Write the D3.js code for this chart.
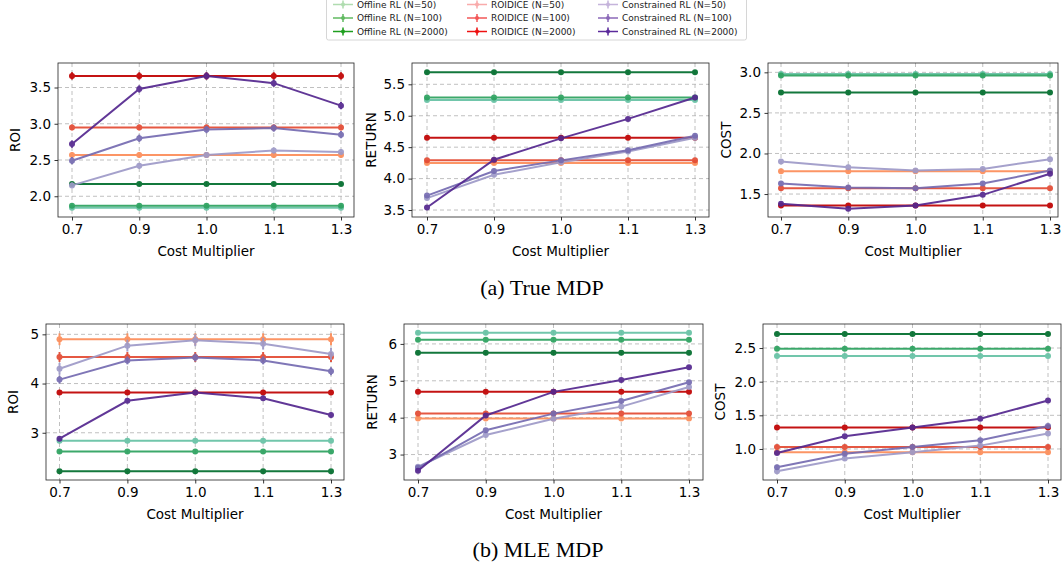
<!DOCTYPE html>
<html>
<head>
<meta charset="utf-8">
<script src="https://cdn.jsdelivr.net/npm/d3@7"></script>
<style>
  body { margin: 0; background: #fff; }
  svg { font-family: "DejaVu Sans", sans-serif; }
  .grid line { stroke: #b0b0b0; stroke-dasharray: 4,3; stroke-width: 0.8; }
</style>
</head>
<body>
<div id="chart"></div>
<script>
// x categories shared by every panel (evenly spaced on the axis)
var costMultipliers = ["0.7", "0.9", "1.0", "1.1", "1.3"];
var methods = ["Offline RL", "ROIDICE", "Constrained RL"];
var sampleSizes = [50, 100, 2000];

// (a) True MDP -- each method: [N=50, N=100, N=2000]
var trueRoiOffline = [[1.84, 1.84, 1.84, 1.84, 1.84], [1.87, 1.87, 1.87, 1.87, 1.87], [2.17, 2.17, 2.17, 2.17, 2.17]];
var trueRoiRoidice = [[2.57, 2.57, 2.57, 2.57, 2.57], [2.95, 2.95, 2.95, 2.95, 2.95], [3.66, 3.66, 3.66, 3.66, 3.66]];
var trueRoiConstrained = [[2.15, 2.42, 2.57, 2.63, 2.61], [2.49, 2.80, 2.92, 2.94, 2.85], [2.72, 3.48, 3.66, 3.56, 3.25]];

var trueReturnOffline = [[5.25, 5.25, 5.25, 5.25, 5.25], [5.29, 5.29, 5.29, 5.29, 5.29], [5.69, 5.69, 5.69, 5.69, 5.69]];
var trueReturnRoidice = [[4.25, 4.25, 4.25, 4.25, 4.25], [4.29, 4.29, 4.29, 4.29, 4.29], [4.65, 4.65, 4.65, 4.65, 4.65]];
var trueReturnConstrained = [[3.69, 4.06, 4.26, 4.43, 4.65], [3.73, 4.12, 4.29, 4.45, 4.68], [3.54, 4.30, 4.64, 4.95, 5.29]];

var trueCostOffline = [[2.98, 2.98, 2.98, 2.98, 2.98], [2.96, 2.96, 2.96, 2.96, 2.96], [2.75, 2.75, 2.75, 2.75, 2.75]];
var trueCostRoidice = [[1.78, 1.78, 1.78, 1.78, 1.78], [1.57, 1.57, 1.57, 1.57, 1.57], [1.36, 1.36, 1.36, 1.36, 1.36]];
var trueCostConstrained = [[1.90, 1.83, 1.79, 1.81, 1.93], [1.63, 1.58, 1.57, 1.63, 1.79], [1.38, 1.32, 1.36, 1.49, 1.75]];

// (b) MLE MDP
var mleRoiOffline = [[2.84, 2.84, 2.84, 2.84, 2.84], [2.62, 2.62, 2.62, 2.62, 2.62], [2.22, 2.22, 2.22, 2.22, 2.22]];
var mleRoiRoidice = [[4.90, 4.90, 4.90, 4.90, 4.90], [4.54, 4.54, 4.54, 4.54, 4.54], [3.82, 3.82, 3.82, 3.82, 3.82]];
var mleRoiConstrained = [[4.30, 4.77, 4.88, 4.81, 4.60], [4.08, 4.47, 4.53, 4.47, 4.25], [2.88, 3.65, 3.82, 3.70, 3.36]];

var mleReturnOffline = [[6.30, 6.30, 6.30, 6.30, 6.30], [6.11, 6.11, 6.11, 6.11, 6.11], [5.76, 5.76, 5.76, 5.76, 5.76]];
var mleReturnRoidice = [[3.98, 3.98, 3.98, 3.98, 3.98], [4.11, 4.11, 4.11, 4.11, 4.11], [4.70, 4.70, 4.70, 4.70, 4.70]];
var mleReturnConstrained = [[2.67, 3.53, 3.97, 4.30, 4.83], [2.64, 3.66, 4.11, 4.45, 4.96], [2.56, 4.06, 4.70, 5.02, 5.37]];

var mleCostOffline = [[2.38, 2.38, 2.38, 2.38, 2.38], [2.49, 2.49, 2.49, 2.49, 2.49], [2.71, 2.71, 2.71, 2.71, 2.71]];
var mleCostRoidice = [[0.95, 0.95, 0.95, 0.95, 0.95], [1.03, 1.03, 1.03, 1.03, 1.03], [1.32, 1.32, 1.32, 1.32, 1.32]];
var mleCostConstrained = [[0.67, 0.86, 0.95, 1.05, 1.23], [0.73, 0.93, 1.03, 1.13, 1.34], [0.94, 1.19, 1.32, 1.45, 1.72]];

// error bar half-widths, one per series (Offline x3, ROIDICE x3, Constrained x3)
var trueRoiErr = [0.03, 0.03, 0.02, 0.04, 0.04, 0.05, 0.04, 0.05, 0.05];
var trueReturnErr = [0.02, 0.02, 0.01, 0.02, 0.02, 0.01, 0.03, 0.03, 0.02];
var trueCostErr = [0.02, 0.02, 0.01, 0.02, 0.01, 0.01, 0.02, 0.02, 0.02];
var mleRoiErr = [0.03, 0.03, 0.02, 0.12, 0.10, 0.05, 0.12, 0.08, 0.05];
var mleReturnErr = [0.02, 0.02, 0.01, 0.03, 0.02, 0.01, 0.03, 0.02, 0.02];
var mleCostErr = [0.01, 0.01, 0.01, 0.02, 0.02, 0.01, 0.02, 0.02, 0.01];

var yTicksTrueRoi = [2.0, 2.5, 3.0, 3.5];
var yTicksTrueReturn = [3.5, 4.0, 4.5, 5.0, 5.5];
var yTicksTrueCost = [1.5, 2.0, 2.5, 3.0];
var yTicksMleRoi = [3, 4, 5];
var yTicksMleReturn = [3, 4, 5, 6];
var yTicksMleCost = [1.0, 1.5, 2.0, 2.5];

// plot colours per method, light -> dark
var lineColors = [
  ["#66c2a4", "#2ca25f", "#006d2c"],
  ["#fc8d59", "#e34a33", "#c00000"],
  ["#9e9ac8", "#756bb1", "#54278f"]
];
// legend handles use a base colour with alpha
var legendBase = ["#1f9e1f", "#ee1111", "#5b2a9b"];
var legendAlpha = [0.35, 0.7, 1];

var svgWidth = 1063, svgHeight = 567;
var fontSize = 13.5;

var svg = d3.select("#chart").append("svg")
  .attr("width", svgWidth)
  .attr("height", svgHeight);

function buildSeries(off, roi, con, err) {
  var out = [];
  [off, roi, con].forEach(function(group, m) {
    group.forEach(function(vals, k) {
      out.push({
        method: m, n: k,
        color: lineColors[m][k],
        err: err[m * 3 + k],
        points: vals.map(function(v, i) { return {x: costMultipliers[i], y: v}; })
      });
    });
  });
  return out;
}

// frame boxes and tick positions
var panels = [
  {label: "ROI", x0: 58, x1: 354, t0: 72, t1: 341, y0: 63, y1: 217, yDom: [1.714, 3.838], ticks: yTicksTrueRoi, fmt: ".1f", ylx: 15,
   series: buildSeries(trueRoiOffline, trueRoiRoidice, trueRoiConstrained, trueRoiErr)},
  {label: "RETURN", x0: 412, x1: 709, t0: 427, t1: 695, y0: 63, y1: 217, yDom: [3.389, 5.839], ticks: yTicksTrueReturn, fmt: ".1f", ylx: 371,
   series: buildSeries(trueReturnOffline, trueReturnRoidice, trueReturnConstrained, trueReturnErr)},
  {label: "COST", x0: 768, x1: 1058, t0: 781, t1: 1050, y0: 63, y1: 217, yDom: [1.217, 3.115], ticks: yTicksTrueCost, fmt: ".1f", ylx: 726,
   series: buildSeries(trueCostOffline, trueCostRoidice, trueCostConstrained, trueCostErr)},
  {label: "ROI", x0: 46, x1: 344, t0: 59.5, t1: 331, y0: 324, y1: 480, yDom: [2.04, 5.21], ticks: yTicksMleRoi, fmt: "d", ylx: 13,
   series: buildSeries(mleRoiOffline, mleRoiRoidice, mleRoiConstrained, mleRoiErr)},
  {label: "RETURN", x0: 404, x1: 703, t0: 418, t1: 689, y0: 324, y1: 480, yDom: [2.31, 6.54], ticks: yTicksMleReturn, fmt: "d", ylx: 372,
   series: buildSeries(mleReturnOffline, mleReturnRoidice, mleReturnConstrained, mleReturnErr)},
  {label: "COST", x0: 763, x1: 1061, t0: 777, t1: 1048, y0: 324, y1: 480, yDom: [0.539, 2.857], ticks: yTicksMleCost, fmt: ".1f", ylx: 720,
   series: buildSeries(mleCostOffline, mleCostRoidice, mleCostConstrained, mleCostErr)}
];

panels.forEach(function(p) {
  var x = d3.scalePoint().domain(costMultipliers).range([p.t0, p.t1]);
  var y = d3.scaleLinear().domain(p.yDom).range([p.y1, p.y0]);
  var g = svg.append("g");

  // grid
  var grid = g.append("g").attr("class", "grid");
  grid.selectAll(".gx").data(costMultipliers).enter().append("line")
    .attr("x1", d => x(d)).attr("x2", d => x(d))
    .attr("y1", p.y0).attr("y2", p.y1);
  grid.selectAll(".gy").data(p.ticks).enter().append("line")
    .attr("x1", p.x0).attr("x2", p.x1)
    .attr("y1", d => y(d)).attr("y2", d => y(d));

  var line = d3.line().x(d => x(d.x)).y(d => y(d.y));

  p.series.forEach(function(s) {
    var sg = g.append("g").attr("opacity", 0.92);
    sg.append("path")
      .datum(s.points)
      .attr("d", line)
      .attr("fill", "none")
      .attr("stroke", s.color)
      .attr("stroke-width", 2);
    sg.selectAll("line.err").data(s.points).enter().append("line")
      .attr("x1", d => x(d.x)).attr("x2", d => x(d.x))
      .attr("y1", d => y(d.y - s.err)).attr("y2", d => y(d.y + s.err))
      .attr("stroke", s.color).attr("stroke-width", 2);
    sg.selectAll("circle").data(s.points).enter().append("circle")
      .attr("cx", d => x(d.x)).attr("cy", d => y(d.y))
      .attr("r", 3).attr("fill", s.color);
  });

  // axes
  var xAxis = g.append("g")
    .attr("transform", `translate(0, ${p.y1})`)
    .call(d3.axisBottom(x).tickSizeOuter(0).tickSize(3.5).tickPadding(3.5));
  var yAxis = g.append("g")
    .attr("transform", `translate(${p.x0}, 0)`)
    .call(d3.axisLeft(y).tickValues(p.ticks).tickFormat(d3.format(p.fmt)).tickSizeOuter(0).tickSize(3.5).tickPadding(3.5));
  [xAxis, yAxis].forEach(function(a) {
    a.select(".domain").remove();
    a.selectAll("text").attr("font-size", fontSize).attr("fill", "#000").attr("font-family", "DejaVu Sans");
    a.selectAll("line").attr("stroke", "#000").attr("stroke-width", 0.8);
  });

  g.append("rect")
    .attr("x", p.x0).attr("y", p.y0)
    .attr("width", p.x1 - p.x0).attr("height", p.y1 - p.y0)
    .attr("fill", "none").attr("stroke", "#222").attr("stroke-width", 0.8);

  g.append("text")
    .attr("x", (p.x0 + p.x1) / 2)
    .attr("y", p.y1 + 39)
    .attr("text-anchor", "middle")
    .attr("font-size", fontSize)
    .text("Cost Multiplier");

  g.append("text")
    .attr("transform", `translate(${p.ylx}, ${(p.y0 + p.y1) / 2}) rotate(-90)`)
    .attr("text-anchor", "middle")
    .attr("dy", "0.35em")
    .attr("font-size", fontSize)
    .text(p.label);
});

// captions
svg.append("text").attr("x", 542).attr("y", 295)
  .attr("text-anchor", "middle").attr("font-family", "Liberation Serif")
  .attr("font-size", 22).text("(a) True MDP");
svg.append("text").attr("x", 538).attr("y", 557)
  .attr("text-anchor", "middle").attr("font-family", "Liberation Serif")
  .attr("font-size", 22).text("(b) MLE MDP");

// legend
var legend = svg.append("g");
legend.append("rect")
  .attr("x", 326.5).attr("y", -4).attr("width", 420).attr("height", 44)
  .attr("rx", 2).attr("fill", "#fff").attr("stroke", "#ccc").attr("stroke-width", 0.8);
var colX = [333, 467, 598];
var rowY = [4.5, 18, 31.5];
methods.forEach(function(m, mi) {
  sampleSizes.forEach(function(n, ni) {
    var lg = legend.append("g").attr("transform", `translate(${colX[mi]}, ${rowY[ni]})`);
    var hg = lg.append("g").attr("opacity", legendAlpha[ni]);
    hg.append("line").attr("x1", 0).attr("x2", 20).attr("y1", 0).attr("y2", 0)
      .attr("stroke", legendBase[mi]).attr("stroke-width", 1.5);
    hg.append("line").attr("x1", 10).attr("x2", 10).attr("y1", -4).attr("y2", 4)
      .attr("stroke", legendBase[mi]).attr("stroke-width", 1.5);
    hg.append("circle").attr("cx", 10).attr("cy", 0).attr("r", 2).attr("fill", legendBase[mi]);
    lg.append("text").attr("x", 24).attr("y", 0).attr("dy", "0.35em")
      .attr("font-size", 9).attr("fill", "#222")
      .text(`${m} (N=${n})`);
  });
});
</script>
</body>
</html>
